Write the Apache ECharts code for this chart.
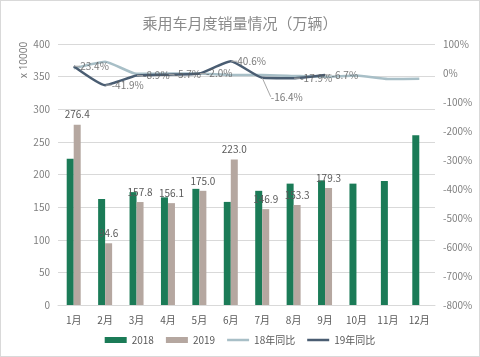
<!DOCTYPE html>
<html><head><meta charset="utf-8">
<script src="https://cdn.jsdelivr.net/npm/echarts@6/dist/echarts.min.js"></script>
<style>html,body{margin:0;padding:0;background:#fff}#c{width:478px;height:355px;border:1px solid #d9d9d9}</style>
</head><body><div id="c"></div>
<script>
const categories = ['1月','2月','3月','4月','5月','6月','7月','8月','9月','10月','11月','12月'];
const sales2018 = [224, 162.5, 173, 165, 178, 158, 175, 186, 191, 186, 190, 260];
const sales2019 = [276.4, 94.6, 157.8, 156.1, 175.0, 223.0, 146.9, 153.3, 179.3];
const yoy2018 = [16, 39, -3, -2, -2, -7, -7, -10, -13, -9, -21, -20];
const yoy2019 = [23.4, -41.9, -8.9, -5.7, -2.0, 40.6, -16.4, -17.9, -6.7];
const leftTicks = {min: 0, max: 400, interval: 50};
const rightTicks = {min: -800, max: 100, interval: 100};

const chart = echarts.init(document.getElementById('c'));
const txt = '#595959';
const lineIcon = 'path://M0,0L22,0L22,2.5L0,2.5Z';
chart.setOption({
  animation: false,
  textStyle: {fontFamily: 'Noto Sans CJK SC, Noto Sans, sans-serif'},
  title: {text: '乘用车月度销量情况（万辆）', left: 'center', top: 10,
    textStyle: {fontSize: 15, fontWeight: 'normal', color: '#8a8a8a', fontFamily: 'Noto Sans CJK SC'}},
  graphic: [{type: 'text', x: 23, y: 59, rotation: Math.PI / 2,
    style: {text: 'x 10000', fontSize: 10, fill: '#7f7f7f', align: 'center', verticalAlign: 'middle',
      fontFamily: 'Noto Sans, sans-serif'}}],
  grid: {left: 57, right: 44, top: 43, bottom: 51},
  legend: {bottom: 6, left: 'center', itemWidth: 22, itemHeight: 6, itemGap: 12,
    textStyle: {fontSize: 10, color: txt},
    data: [{name: '2018', icon: 'rect'}, {name: '2019', icon: 'rect'},
           {name: '18年同比', icon: lineIcon}, {name: '19年同比', icon: lineIcon}]},
  xAxis: {type: 'category', data: categories,
    axisLine: {lineStyle: {color: '#d9d9d9'}}, axisTick: {show: false},
    axisLabel: {fontSize: 10, color: txt, margin: 10}},
  yAxis: [
    {type: 'value', min: leftTicks.min, max: leftTicks.max, interval: leftTicks.interval,
     axisLabel: {fontSize: 10, color: '#7f7f7f', margin: 8},
     axisLine: {show: false}, axisTick: {show: false},
     splitLine: {lineStyle: {color: '#d9d9d9'}}},
    {type: 'value', min: rightTicks.min, max: rightTicks.max, interval: rightTicks.interval,
     axisLabel: {fontSize: 10, color: '#7f7f7f', margin: 8, formatter: '{value}%'},
     axisLine: {show: false}, axisTick: {show: false}, splitLine: {show: false}}
  ],
  series: [
    {name: '2018', type: 'bar', data: sales2018, barWidth: 7, barGap: '0%',
     itemStyle: {color: '#1b7b57'}},
    {name: '2019', type: 'bar', data: sales2019, barWidth: 7,
     itemStyle: {color: '#b5a7a0'},
     label: {show: true, position: 'top', distance: 5, fontSize: 10, color: txt,
       formatter: p => p.value.toFixed(1)}},
    {name: '18年同比', type: 'line', yAxisIndex: 1, data: yoy2018, symbol: 'none', smooth: 0.15,
     lineStyle: {color: '#a8bfc7', width: 2.5}, itemStyle: {color: '#a8bfc7'}},
    {name: '19年同比', type: 'line', yAxisIndex: 1, data: yoy2019, symbol: 'none', smooth: 0.15,
     lineStyle: {color: '#4a5d72', width: 2.5}, itemStyle: {color: '#4a5d72'}},
    {name: '19年同比标签', type: 'scatter', yAxisIndex: 1, data: yoy2019, symbolSize: 1,
     itemStyle: {color: 'rgba(0,0,0,0)'}, z: 5, silent: true,
     label: {show: true, position: 'right', distance: 6, fontSize: 10, color: txt,
       formatter: p => p.value.toFixed(1) + '%'},
     labelLine: {show: true, lineStyle: {color: '#a6a6a6', width: 1}},
     labelLayout: p => p.dataIndex === 6 ? {dx: 2, dy: 19} : {}}
  ]
});
</script></body></html>
